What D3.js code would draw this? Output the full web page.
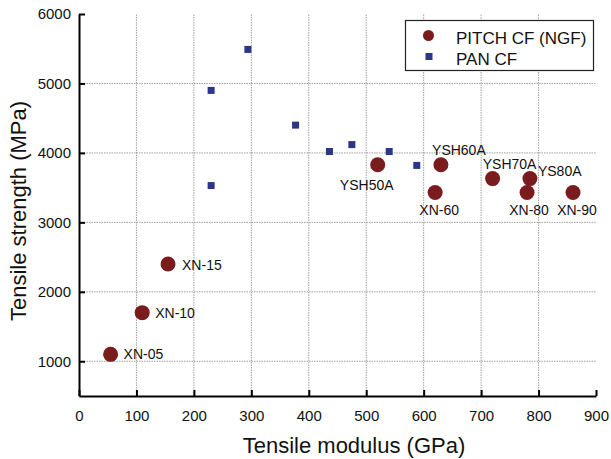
<!DOCTYPE html>
<html><head><meta charset="utf-8">
<script src="https://cdn.jsdelivr.net/npm/d3@7"></script>
<style>body{margin:0;background:#fff}svg{display:block;font-family:"Liberation Sans",Arial,sans-serif}</style>
</head><body><div id="chart"></div>
<script>
const pitchNames = ["XN-05","XN-10","XN-15","YSH50A","YSH60A","XN-60","YSH70A","YS80A","XN-80","XN-90"];
const pitchModulus = [55,110,155,520,630,620,720,785,780,860];
const pitchStrength = [1100,1700,2400,3830,3830,3430,3630,3630,3430,3430];
const panModulus = [230,294,377,230,436,475,540,588];
const panStrength = [4900,5490,4400,3530,4020,4120,4020,3820];
const xTicks = [0,100,200,300,400,500,600,700,800,900];
const yTicks = [1000,2000,3000,4000,5000,6000];
const seriesNames = ["PITCH CF (NGF)","PAN CF"];
// label offsets [dx, dy, anchor]
const labelPos = [[13,5,"start"],[13,5,"start"],[14,6,"start"],[-11,25,"middle"],[18,-10,"middle"],[4,23,"middle"],[17,-10,"middle"],[8,-3,"start"],[2,23,"middle"],[4,23,"middle"]];

const W=611,H=459;
const svg=d3.select("#chart").append("svg").attr("width",W).attr("height",H);
const x=d3.scaleLinear().domain([0,900]).range([79,596]);
const y=d3.scaleLinear().domain([500,6000]).range([396,14]);

// grid
svg.append("g").selectAll("line").data(xTicks.filter(d=>d>0&&d<900)).join("line")
 .attr("x1",d=>x(d)).attr("x2",d=>x(d)).attr("y1",y(500)).attr("y2",y(6000))
 .attr("stroke","#888").attr("stroke-width",0.8).attr("stroke-dasharray","1.5,1");
svg.append("g").selectAll("line").data(yTicks.filter(d=>d<6000)).join("line")
 .attr("x1",x(0)).attr("x2",x(900)).attr("y1",d=>y(d)).attr("y2",d=>y(d))
 .attr("stroke","#888").attr("stroke-width",0.8).attr("stroke-dasharray","1.5,1");

// axes
const xAxis=d3.axisBottom(x).tickValues(xTicks).tickSizeInner(-6).tickSizeOuter(0).tickPadding(14).tickFormat(d3.format("d"));
const gx=svg.append("g").attr("transform",`translate(0,${y(500)})`).call(xAxis);
gx.select(".domain").attr("stroke","#000").attr("stroke-width",2);
gx.selectAll(".tick line").attr("stroke","#000").attr("stroke-width",2);
gx.selectAll("text").attr("font-size","15px").attr("fill","#111").attr("font-family","Liberation Sans, Arial");
const yAxis=d3.axisLeft(y).tickValues(yTicks).tickSizeInner(-6).tickSizeOuter(0).tickPadding(8).tickFormat(d3.format("d"));
const gy=svg.append("g").attr("transform",`translate(${x(0)},0)`).call(yAxis);
gy.select(".domain").attr("stroke","#000").attr("stroke-width",2);
gy.selectAll(".tick line").attr("stroke","#000").attr("stroke-width",2);
gy.selectAll("text").attr("font-size","15px").attr("fill","#111").attr("font-family","Liberation Sans, Arial");

// titles
svg.append("text").attr("x",354).attr("y",453).attr("text-anchor","middle")
 .attr("font-size","22px").attr("fill","#111").text("Tensile modulus (GPa)");
svg.append("text").attr("transform","translate(26,211) rotate(-90)").attr("text-anchor","middle")
 .attr("font-size","22px").attr("fill","#111").text("Tensile strength (MPa)");

// PAN squares
const sq=7;
svg.append("g").selectAll("rect").data(panModulus.map((m,i)=>[m,panStrength[i]])).join("rect")
 .attr("x",d=>x(d[0])-sq/2).attr("y",d=>y(d[1])-sq/2).attr("width",sq).attr("height",sq)
 .attr("fill","#2b3589");

// pitch circles
const pdata=pitchNames.map((n,i)=>({n,m:pitchModulus[i],s:pitchStrength[i],p:labelPos[i]}));
svg.append("g").selectAll("circle").data(pdata).join("circle")
 .attr("cx",d=>x(d.m)).attr("cy",d=>y(d.s)).attr("r",7.5).attr("fill","#7a1b1d");
svg.append("g").selectAll("text").data(pdata).join("text")
 .attr("x",d=>x(d.m)+d.p[0]).attr("y",d=>y(d.s)+d.p[1]).attr("text-anchor",d=>d.p[2])
 .attr("font-size","14px").attr("fill","#111").text(d=>d.n);

// legend
const lg=svg.append("g");
lg.append("rect").attr("x",405.5).attr("y",20.5).attr("width",188).attr("height",50)
 .attr("fill","#fff").attr("stroke","#222").attr("stroke-width",1.2);
lg.append("circle").attr("cx",428.5).attr("cy",35.5).attr("r",5.5).attr("fill","#7a1b1d");
lg.append("rect").attr("x",425.5).attr("y",53).attr("width",7).attr("height",7).attr("fill","#2b3589");
lg.append("text").attr("x",456).attr("y",43.5).attr("font-size","17px").attr("fill","#111").text(seriesNames[0]);
lg.append("text").attr("x",456).attr("y",64.5).attr("font-size","17px").attr("fill","#111").text(seriesNames[1]);
</script></body></html>
